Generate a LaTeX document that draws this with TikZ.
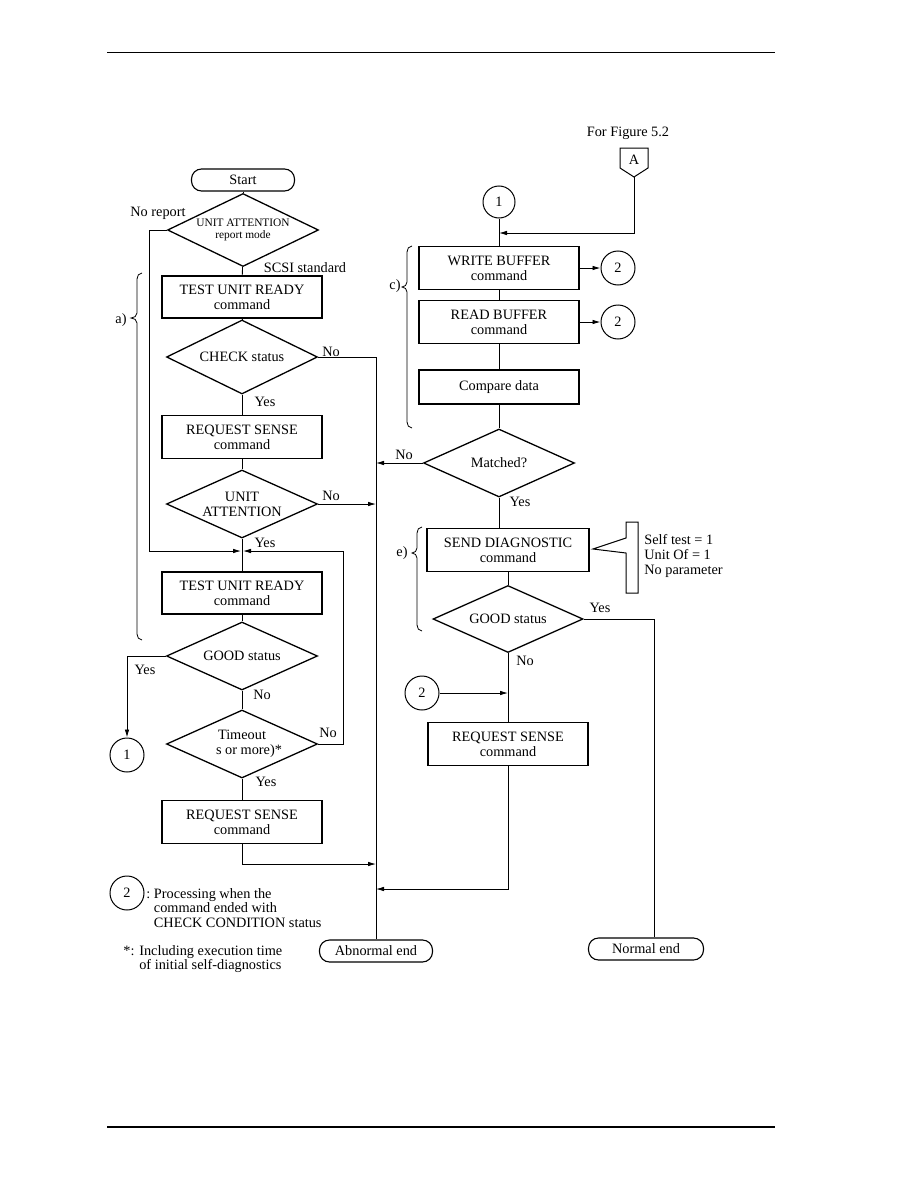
\documentclass[tikz,border=0pt]{standalone}
\usepackage{fontspec}
\setmainfont{Liberation Serif}
\usetikzlibrary{arrows.meta,shapes.geometric,calc}

\begin{document}
\begin{tikzpicture}[x=1pt, y=-1pt,
    font=\fontsize{14.3}{14.8}\selectfont,
    line width=0.8pt,
    cmd/.style={rectangle, draw, line width=1.4pt, minimum width=160pt, minimum height=43pt, align=center, inner sep=0pt},
    dec/.style={diamond, draw, line width=1.3pt, minimum width=151pt, minimum height=68pt, aspect=2.2, inner sep=0pt, align=center},
    term/.style={rectangle, draw, line width=1.1pt, rounded corners=10pt, minimum height=22pt, inner sep=0pt},
    conn/.style={circle, draw, line width=1pt, minimum size=34pt, inner sep=0pt},
    lbl/.style={inner sep=0pt},
    arr/.style={-{Latex[length=8pt,width=4.5pt]}}
  ]
    \useasboundingbox (0,0) rectangle (918,1188);
    \draw[line width=0.8pt] (107,52) -- (775,52);
    \draw[line width=1.6pt] (107,1127) -- (775,1127);

    % left column
    \node[term, minimum width=103pt] (start) at (243,180) {Start};
    \node[dec, minimum height=73pt, font=\fontsize{11.4}{12.5}\selectfont] (uamode) at (243,230) {UNIT ATTENTION\\report mode};
    \node[cmd, minimum height=42pt] (tur1) at (242,297) {TEST UNIT READY\\command};
    \node[dec, minimum height=74pt] (chk) at (242,357) {CHECK status};
    \node[cmd] (rs1) at (242,437) {REQUEST SENSE\\command};
    \node[dec] (ua) at (242,504) {UNIT\\ATTENTION};
    \coordinate (mg) at (242,551);
    \node[cmd, minimum height=42pt] (tur2) at (242,593) {TEST UNIT READY\\command};
    \node[dec] (good1) at (242,656) {GOOD status};
    \node[dec] (tout) at (242,744) {Timeout\\\hspace*{14pt}s or more)*};
    \node[cmd] (rs2) at (242,822) {REQUEST SENSE\\command};
    \node[term, minimum width=113pt] (abend) at (376,951) {Abnormal end};
    \node[conn] (one1) at (127,755) {1};
    \coordinate (jn1) at (376,864);
    \coordinate (jn2) at (376,889);

    % right column
    \node[lbl] (forfig) at (628,133) {For Figure 5.2};
    \node[lbl] (offa) at (634,160) {A};
    \coordinate (atip) at (634,177);
    \draw[line width=1pt] (620,148) -- (648,148) -- (648,168) -- (atip) -- (620,168) -- cycle;
    \node[conn, minimum size=32pt] (one2) at (499,202) {1};
    \coordinate (ja) at (499,233);
    \node[cmd] (wbuf) at (499,268) {WRITE BUFFER\\command};
    \node[conn] (two1) at (618,268) {2};
    \node[cmd] (rbuf) at (499,322) {READ BUFFER\\command};
    \node[conn] (two2) at (618,322) {2};
    \node[cmd, minimum height=34pt] (cmp) at (499,387) {Compare data};
    \node[dec] (match) at (499,463) {Matched?};
    \node[cmd, minimum width=162pt] (sdiag) at (508,550) {SEND DIAGNOSTIC\\command};
    \node[dec, minimum width=150pt, minimum height=67pt] (good2) at (508,619) {GOOD status};
    \node[conn] (two3) at (422,693) {2};
    \node[cmd] (rs3) at (508,744) {REQUEST SENSE\\command};
    \node[term, minimum width=115pt] (nend) at (646,949) {Normal end};
    \draw[line width=1pt] (626,538) -- (626,522) -- (638,522) -- (638,593) -- (626,593) -- (626,553) -- (593,549) -- cycle;
    \node[lbl, align=left, anchor=west] (parms) at (644,556) {Self test = 1\\Unit Of = 1\\No parameter};

    % braces
    \draw (142,273) to[out=180,in=90] (137,279) -- (137,313) to[out=-90,in=0] (131,318) to[out=0,in=90] (137,323) -- (137,634) to[out=-90,in=180] (142,640);
    \node[lbl] (bra) at (121,320) {a)};
    \draw (412,246) to[out=180,in=90] (407,252) -- (407,282) to[out=-90,in=0] (402,287) to[out=0,in=90] (407,292) -- (407,422) to[out=-90,in=180] (412,428);
    \node[lbl] (brc) at (395,286) {c)};
    \draw (422,527) to[out=180,in=90] (417,533) -- (417,548) to[out=-90,in=0] (412,553) to[out=0,in=90] (417,558) -- (417,625) to[out=-90,in=180] (422,631);
    \node[lbl] (bre) at (402,553) {e)};

    % legend
    \node[conn] (two4) at (127,893) {2};
    \node[lbl, align=left, anchor=west] (legtxt) at (146,908) {:\ Processing when the\\\phantom{:\ }command ended with\\\phantom{:\ }CHECK CONDITION status};
    \node[lbl, align=left, anchor=west] (note) at (123,959) {*: Including execution time\\\phantom{*: }of initial self-diagnostics};

    % labels
    \node[lbl] (lnorep) at (158,213) {No report};
    \node[lbl] (lscsi) at (305,268) {SCSI standard};
    \node[lbl] (lno1) at (331,352) {No};
    \node[lbl] (lyes1) at (265,402) {Yes};
    \node[lbl] (lno2) at (331,496) {No};
    \node[lbl] (lyes2) at (265,543) {Yes};
    \node[lbl] (lyes3) at (145,670) {Yes};
    \node[lbl] (lno3) at (262,695) {No};
    \node[lbl] (lno4) at (328,733) {No};
    \node[lbl] (lyes4) at (266,782) {Yes};
    \node[lbl] (lno5) at (404,455) {No};
    \node[lbl] (lyes5) at (520,502) {Yes};
    \node[lbl] (lyes6) at (600,608) {Yes};
    \node[lbl] (lno6) at (525,661) {No};

    % connectors left
    \draw (start) -- (uamode);
    \draw[arr, shorten >=1pt] (uamode.west) -- ++(-17,0) |- (mg);
    \draw (uamode) -- (tur1);
    \draw (tur1) -- (chk);
    \draw (chk) -- (rs1);
    \draw (rs1) -- (ua);
    \draw (ua) -- (tur2);
    \draw (tur2) -- (good1);
    \draw (good1) -- (tout);
    \draw (tout) -- (rs2);
    \draw (chk.east) -| (abend.north);
    \draw[arr] (ua.east) -- (ua.east -| abend.north);
    \draw[arr, shorten >=1pt] (tout.east) -- ++(25,0) |- (mg);
    \draw[arr] (good1.west) -| (one1.north);
    \draw[arr] (rs2.south) |- (jn1);
    \draw[arr] (rs3.south) |- (jn2);
    \draw[arr] (match.west) -- (match.west -| abend.north);

    % connectors right
    \draw[arr] (atip) |- (ja);
    \draw (one2) -- (wbuf);
    \draw (wbuf) -- (rbuf);
    \draw (rbuf) -- (cmp);
    \draw (cmp) -- (match);
    \draw[arr] (wbuf) -- (two1);
    \draw[arr] (rbuf) -- (two2);
    \draw (match.south) -- (match.south |- sdiag.north);
    \draw (sdiag) -- (good2);
    \draw (good2) -- (rs3);
    \draw[arr] (two3) -- (two3 -| rs3.north);
    \draw (good2.east) -| ([xshift=8pt]nend.north);
\end{tikzpicture}
\end{document}
